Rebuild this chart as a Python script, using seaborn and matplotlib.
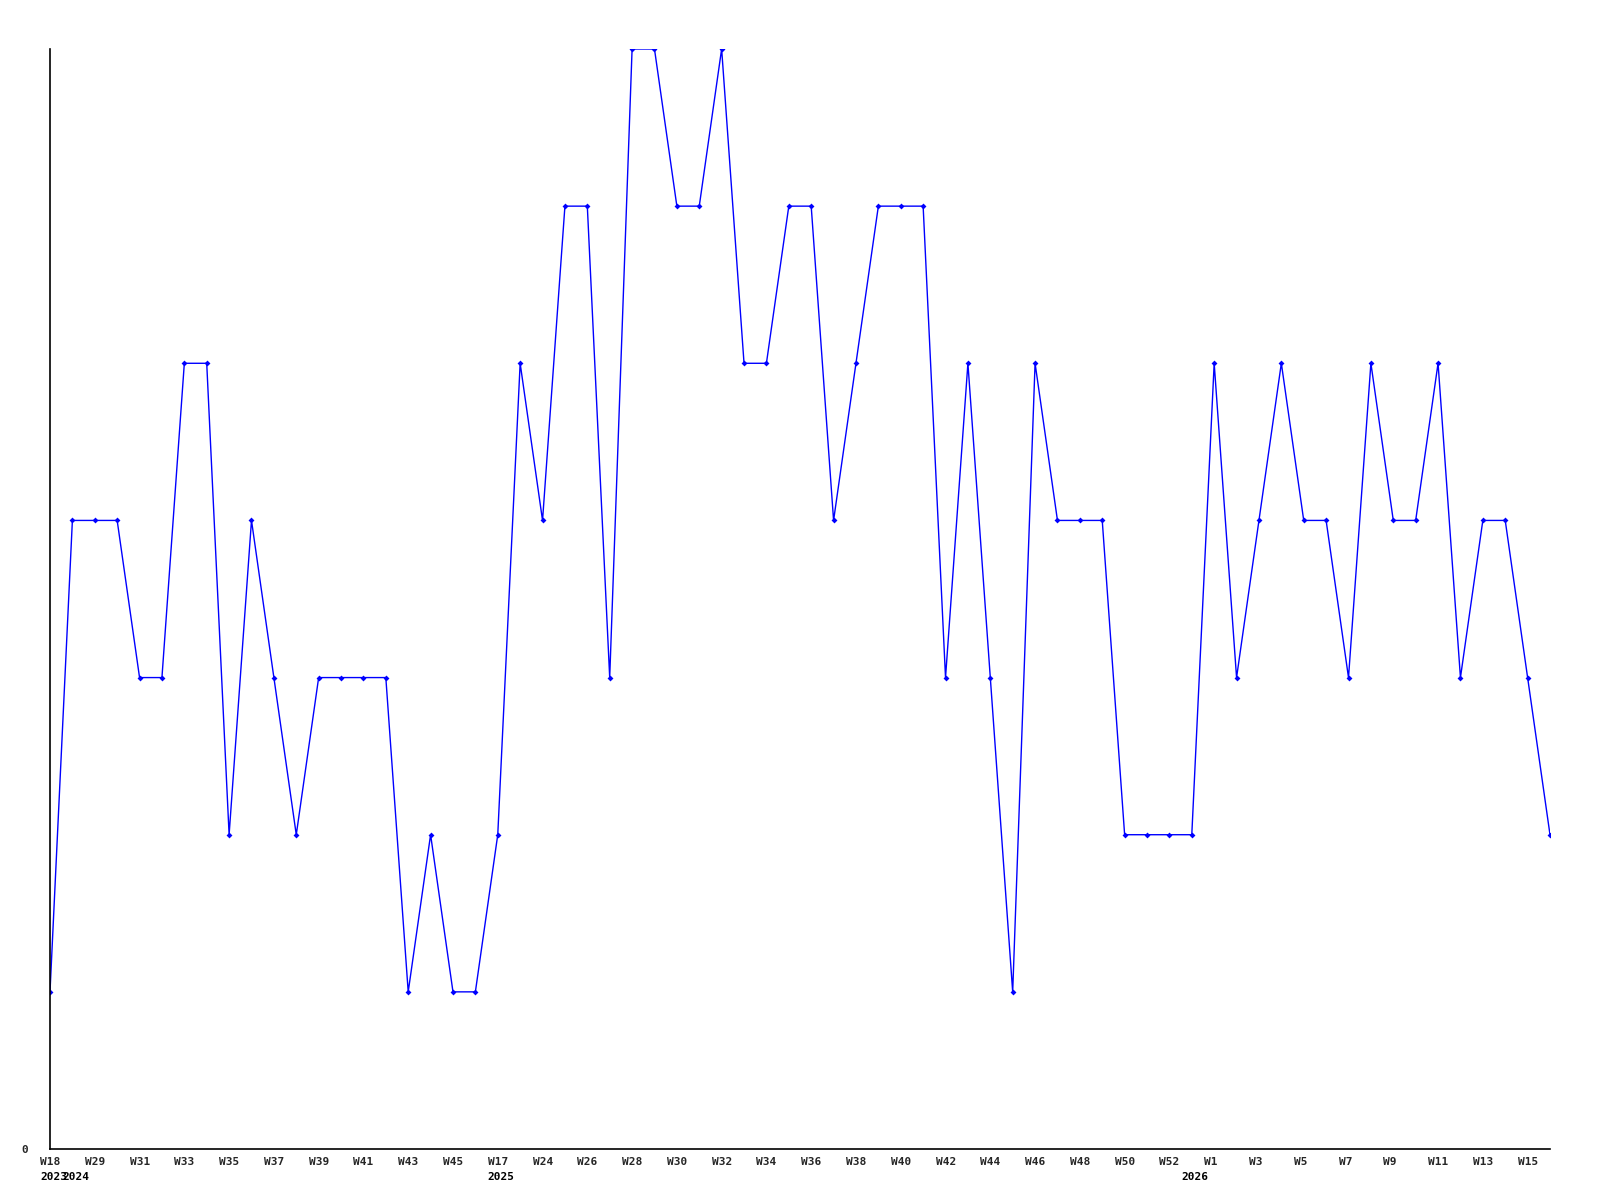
import matplotlib
matplotlib.use("Agg")
import matplotlib.pyplot as plt
import matplotlib.transforms as mtransforms
import seaborn as sns
import numpy as np

# Data
weeks = (["W18"] + [f"W{w}" for w in range(28, 47)] + ["W17", "W20"]
         + [f"W{w}" for w in range(24, 53)] + ["W53"] + [f"W{w}" for w in range(1, 17)])
values = [1, 4, 4, 4, 3, 3, 5, 5, 2, 4,
          3, 2, 3, 3, 3, 3, 1, 2, 1, 1,
          2, 5, 4, 6, 6, 3, 7, 7, 6, 6,
          7, 5, 5, 6, 6, 4, 5, 6, 6, 6,
          3, 5, 3, 1, 5, 4, 4, 4, 2, 2,
          2, 2, 5, 3, 4, 5, 4, 4, 3, 5,
          4, 4, 5, 3, 4, 4, 3, 2]
year_labels = ["2023", "2024", "2025", "2026"]
year_positions = [0, 1, 20, 51]

idx = np.arange(len(values))

sns.set_theme(style="white")
plt.rcParams['font.family'] = ['DejaVu Sans Mono', 'DejaVu Sans']

fig = plt.figure(figsize=(16, 12), dpi=100)
ax = fig.add_axes([50/1600, 1 - 1149/1200, 1500/1600, 1100/1200])

sns.lineplot(x=idx, y=values, ax=ax, color="#0000ff", linewidth=1.0,
             marker="D", markersize=3, markeredgewidth=0, markerfacecolor="#0000ff")

ax.set_xlim(0, len(values) - 1)
ax.set_ylim(0, 7)
for s in ["top", "right"]:
    ax.spines[s].set_visible(False)
for s in ["left", "bottom"]:
    ax.spines[s].set_color("black")
    ax.spines[s].set_linewidth(1.2)

ax.set_yticks([0])
ax.set_yticklabels(["0"], fontsize=8, fontweight="bold")
ax.tick_params(axis="y", length=0, pad=16)

tick_pos = idx[::2]
ax.set_xticks(tick_pos)
ax.set_xticklabels([weeks[i] for i in tick_pos], fontsize=8, fontweight="bold", ha="left")
ax.tick_params(axis="x", length=0, pad=6)
offset = mtransforms.ScaledTranslation(-10/100, 0, fig.dpi_scale_trans)
for lab in ax.get_xticklabels():
    lab.set_transform(lab.get_transform() + offset)

trans = mtransforms.blended_transform_factory(ax.transData, ax.transAxes)
for yl, yp in zip(year_labels, year_positions):
    ax.text(yp, 0, yl, transform=trans + mtransforms.ScaledTranslation(-10/100, -28/100, fig.dpi_scale_trans),
            ha="left", va="center", fontsize=8, fontweight="bold", color="black")

ax.set_xlabel("")
ax.set_ylabel("")
fig.savefig("out.png", dpi=100, facecolor="white")
